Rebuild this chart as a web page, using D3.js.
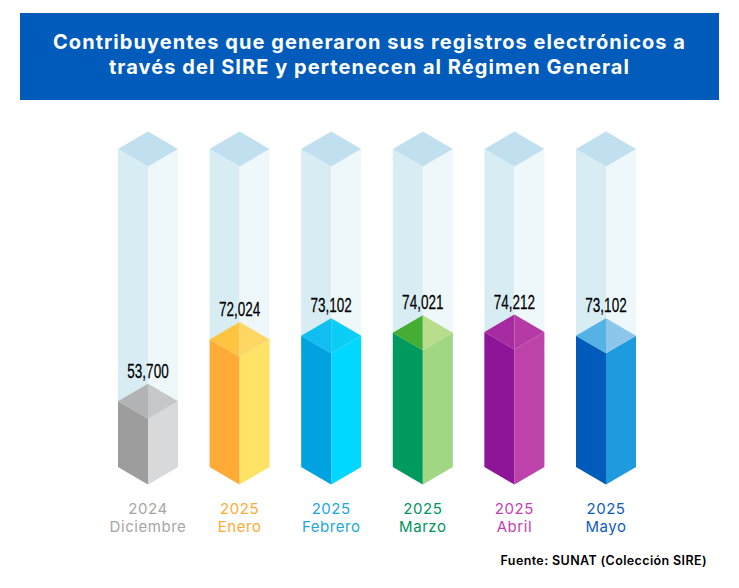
<!DOCTYPE html>
<html>
<head>
<meta charset="utf-8">
<script src="https://cdn.jsdelivr.net/npm/d3@7"></script>
<style>
  html, body { margin: 0; padding: 0; background: #fff; }
  svg { display: block; }
  text { font-family: "Inter", "Noto Sans", sans-serif; }
</style>
</head>
<body>
<svg id="chart" width="739" height="588"></svg>
<script>
const titleLines = ["Contribuyentes que generaron sus registros electrónicos a", "través del SIRE y pertenecen al Régimen General"];
const years = ["2024", "2025", "2025", "2025", "2025", "2025"];
const months = ["Diciembre", "Enero", "Febrero", "Marzo", "Abril", "Mayo"];
const values = [53700, 72024, 73102, 74021, 74212, 73102];
const valueLabels = ["53,700", "72,024", "73,102", "74,021", "74,212", "73,102"];
const leftColors = ["#9d9d9e", "#ffab35", "#00a3e0", "#009a5e", "#8e1598", "#005bbb"];
const rightColors = ["#d8d9db", "#ffe366", "#00d8ff", "#a1d683", "#bd42aa", "#1e9ade"];
const topLeftColors = ["#b2b3b5", "#ffc540", "#10bfef", "#45ad33", "#a62ba0", "#55b2e5"];
const topRightColors = ["#c6c7c9", "#ffd764", "#0ccdf5", "#b8dd8c", "#b63aa5", "#8cc6ea"];
const labelColors = ["#a6a6a6", "#ffab35", "#1aa7e0", "#00945e", "#c33fb5", "#0f5cc0"];
const ghostMax = 128450;

const svg = d3.select("#chart");

// header
svg.append("rect").attr("x", 20).attr("y", 13).attr("width", 699).attr("height", 87).attr("fill", "#005bbb");
svg.selectAll(".title").data(titleLines).join("text")
  .attr("class", "title")
  .attr("x", 369.5)
  .attr("y", (d, i) => 49 + i * 25)
  .attr("text-anchor", "middle")
  .attr("fill", "#fff")
  .attr("font-size", 20)
  .attr("font-weight", 700)
  .attr("letter-spacing", 1.05)
  .text(d => d);

// scales
const x = d3.scalePoint().domain(d3.range(months.length)).range([148, 606]);
const y = d3.scaleLinear().domain([34200, 74212]).range([467, 332]);
const halfW = 30, drop = 17.5;

function poly(pts) { return d3.line()(pts) + "Z"; }

const bars = svg.selectAll(".bar").data(values).join("g").attr("class", "bar");

bars.each(function (v, i) {
  const g = d3.select(this);
  const cx = x(i);
  const base = y.range()[0];
  const yGhost = y(ghostMax);
  const yTop = y(v);

  // empty column behind
  g.append("path").attr("d", poly([[cx - halfW, yGhost], [cx, yGhost + drop], [cx, base + drop], [cx - halfW, base]])).attr("fill", "#d8ecf4");
  g.append("path").attr("d", poly([[cx + halfW, yGhost], [cx, yGhost + drop], [cx, base + drop], [cx + halfW, base]])).attr("fill", "#eef8fb");
  g.append("path").attr("d", poly([[cx - halfW, yGhost], [cx, yGhost - drop], [cx + halfW, yGhost], [cx, yGhost + drop]])).attr("fill", "#c0e0f0");

  // filled column
  g.append("path").attr("d", poly([[cx - halfW, yTop], [cx, yTop + drop], [cx, base + drop], [cx - halfW, base]])).attr("fill", leftColors[i]);
  g.append("path").attr("d", poly([[cx + halfW, yTop], [cx, yTop + drop], [cx, base + drop], [cx + halfW, base]])).attr("fill", rightColors[i]);
  g.append("path").attr("d", poly([[cx - halfW, yTop], [cx, yTop - drop], [cx, yTop + drop]])).attr("fill", topLeftColors[i]);
  g.append("path").attr("d", poly([[cx + halfW, yTop], [cx, yTop - drop], [cx + 0, yTop + drop]])).attr("fill", topRightColors[i]);

  // narrow value label, squeezed since no condensed font is around
  g.append("text")
    .attr("transform", `translate(${cx},${yTop - drop - 6}) scale(0.66,1)`)
    .attr("text-anchor", "middle")
    .attr("fill", "#000")
    .attr("font-size", 20.5)
    .attr("stroke", "#000")
    .attr("stroke-width", 0.25)
    .style("font-family", '"Liberation Sans", sans-serif')
    .text(valueLabels[i]);

  g.append("text").attr("x", cx).attr("y", 514)
    .attr("text-anchor", "middle").attr("fill", labelColors[i]).attr("font-size", 15)
    .attr("letter-spacing", 0.55)
    .text(years[i]);
  g.append("text").attr("x", cx).attr("y", 532)
    .attr("text-anchor", "middle").attr("fill", labelColors[i]).attr("font-size", 15)
    .attr("letter-spacing", 0.55)
    .text(months[i]);
});

// source
svg.append("text").attr("x", 707).attr("y", 565)
  .attr("text-anchor", "end").attr("fill", "#000")
  .attr("font-size", 12.5).attr("font-weight", 600)
  .attr("letter-spacing", 0.38)
  .text("Fuente: SUNAT (Colección SIRE)");
</script>
</body>
</html>
